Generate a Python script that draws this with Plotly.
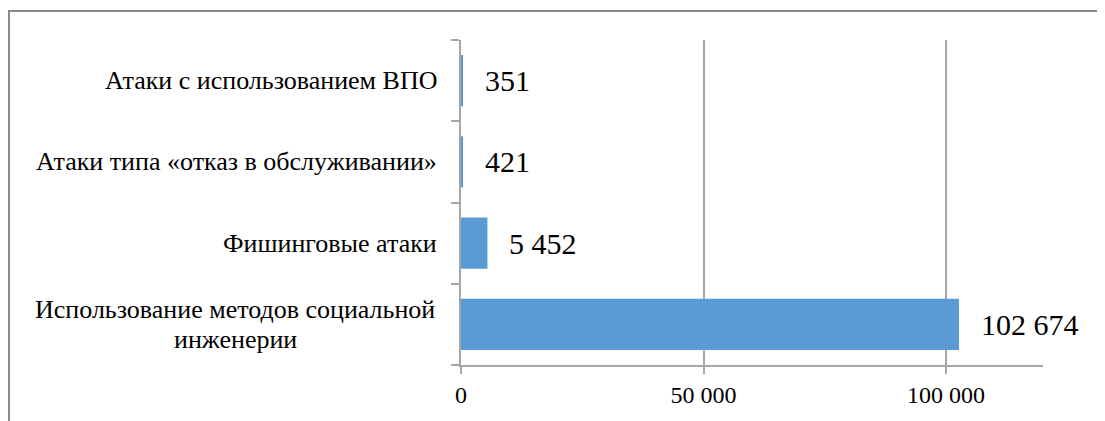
import plotly.graph_objects as go

categories = [
    "Использование методов социальной<br>инженерии",
    "Фишинговые атаки",
    "Атаки типа «отказ в обслуживании»",
    "Атаки с использованием ВПО",
]
values = [102674, 5452, 421, 351]
x_ticks = [0, 50000, 100000]
x_tick_labels = ["0", "50 000", "100 000"]

FONT = "Liberation Serif"
GRID = "#a6a6a6"
BAR = "#5b9bd5"

# page has an 8px body margin
W, H = 1097, 413
L, R, T, B = 453, 62, 32, 56
pw = W - L - R
ph = H - T - B
LINE_H = 30

fig = go.Figure()
fig.add_trace(go.Bar(
    y=categories, x=values, orientation="h",
    marker=dict(color=BAR, line=dict(width=0)),
    hoverinfo="skip",
))

annotations = []
for c, v in zip(categories, values):
    annotations.append(dict(
        x=v, y=c, xref="x", yref="y", text=f"{v:,}".replace(",", " "),
        showarrow=False, xanchor="left", yanchor="middle", xshift=20,
        font=dict(family=FONT, size=30, color="black"),
    ))
    lines = c.split("<br>")
    n = len(lines)
    for i, ln in enumerate(lines):
        annotations.append(dict(
            x=0, y=c, xref="paper", yref="y", text=ln,
            showarrow=False, xanchor="center" if n > 1 else "right",
            yanchor="middle",
            xshift=-22 - (204 if n > 1 else 0),
            yshift=((n - 1) / 2 - i) * LINE_H,
            font=dict(family=FONT, size=26, color="black"),
        ))

border = dict(
    type="rect", xref="paper", yref="paper",
    x0=(1 - L) / pw, x1=(W + 10 - L) / pw,
    y0=-(H + 10 - T - ph) / ph, y1=(T + ph - 3) / ph,
    line=dict(color="#8c8c8c", width=2), fillcolor="rgba(0,0,0,0)",
    layer="below",
)

fig.update_layout(
    width=W, height=H,
    margin=dict(l=L, r=R, t=T, b=B, pad=0),
    paper_bgcolor="white", plot_bgcolor="white",
    showlegend=False,
    bargap=0.37,
    separators=", ",
    annotations=annotations,
    shapes=[border],
    xaxis=dict(
        range=[0, 120000], tickvals=x_ticks, ticktext=x_tick_labels,
        showgrid=True, gridcolor=GRID, gridwidth=1.5,
        showline=True, linecolor=GRID, linewidth=1.5,
        ticks="outside", ticklen=7, tickcolor=GRID, tickwidth=1.5,
        tickfont=dict(family=FONT, size=24, color="black"),
        zeroline=False, fixedrange=True,
    ),
    yaxis=dict(
        type="category", categoryorder="array", categoryarray=categories,
        showticklabels=False,
        showline=True, linecolor=GRID, linewidth=1.5,
        ticks="outside", ticklen=8, tickcolor=GRID, tickwidth=1.5,
        tickson="boundaries", showgrid=False, zeroline=False,
        fixedrange=True,
    ),
)

fig.write_html("out.html", config=dict(displayModeBar=False))
